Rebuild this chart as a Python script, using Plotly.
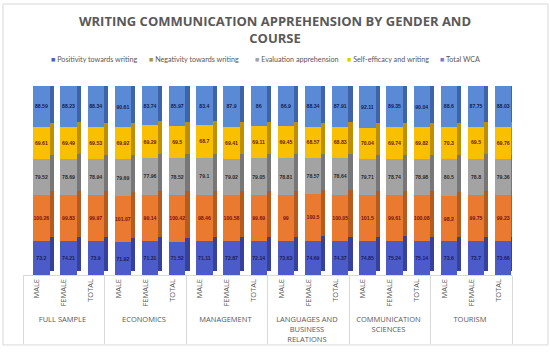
import plotly.graph_objects as go

groups = ["FULL SAMPLE", "ECONOMICS", "MANAGEMENT",
          "LANGUAGES AND<br>BUSINESS<br>RELATIONS", "COMMUNICATION<br>SCIENCES", "TOURISM"]
subs = ["MALE", "FEMALE", "TOTAL"]

positivity = [73.2, 74.21, 73.9, 71.92, 71.31, 71.52, 71.11, 72.87, 72.14,
              73.63, 74.69, 74.37, 74.85, 75.24, 75.14, 73.6, 73.7, 73.66]
negativity = [100.26, 99.83, 99.97, 101.07, 99.14, 100.42, 98.46, 100.58, 99.69,
              99, 100.5, 100.05, 101.5, 99.61, 100.08, 98.2, 99.75, 99.23]
evaluation = [79.52, 78.69, 78.94, 79.69, 77.96, 78.52, 79.1, 79.02, 79.05,
              78.81, 78.57, 78.64, 79.71, 78.74, 78.98, 80.5, 78.8, 79.36]
self_efficacy = [69.61, 69.49, 69.53, 69.92, 69.29, 69.5, 68.7, 69.41, 69.11,
                 69.45, 68.57, 68.83, 70.04, 69.74, 69.82, 70.3, 69.5, 69.76]
total_wca = [88.59, 88.23, 88.34, 90.61, 83.74, 85.97, 83.4, 87.9, 86,
             86.9, 88.34, 87.91, 92.11, 89.35, 90.04, 88.6, 87.75, 88.03]

# name, values, front colour, side colour, label colour, legend colour
series = [
    ("Positivity towards writing", positivity, "#4B5BC9", "#36419A", "#1C1C55", "#4B5BC9"),
    ("Negativity towards writing", negativity, "#EA7A30", "#B45C20", "#7A1010", "#A89A30"),
    ("Evaluation apprehension", evaluation, "#A3A3A3", "#777777", "#2A2A2A", "#A3A3A3"),
    ("Self-efficacy and writing", self_efficacy, "#F9C000", "#BE9000", "#6E1A00", "#E2D000"),
    ("Total WCA", total_wca, "#5A8AD6", "#3E64A6", "#14214F", "#7A7AD0"),
]

x_outer = [g for g in groups for _ in subs]
x_inner = subs * len(groups)
idx = list(range(len(x_inner)))

fig = go.Figure()

# 3D-style extrusion (side / top faces) on the base axes, drawn behind
for name, vals, color, side, tcolor, lcol in series:
    fig.add_trace(go.Bar(
        x=idx, y=vals, xaxis="x", yaxis="y",
        width=0.6, offset=-0.3 + 0.33,
        marker=dict(color=side, line=dict(width=0)),
        showlegend=False, hoverinfo="skip",
    ))

# front faces on the overlaying category axes
for name, vals, color, side, tcolor, lcol in series:
    fig.add_trace(go.Bar(
        name=name,
        x=[x_outer, x_inner],
        y=vals, xaxis="x2", yaxis="y2",
        width=0.6, offset=-0.3 + 0.18,
        text=[f"{v:g}" for v in vals],
        textposition="inside",
        insidetextanchor="middle",
        textangle=0,
        textfont=dict(size=6.6, color=tcolor, family="Liberation Sans", weight="bold"),
        marker=dict(color=color, line=dict(width=0)),
        showlegend=False,
    ))

fig.update_layout(
    width=550, height=354,
    barmode="stack", barnorm="percent",
    paper_bgcolor="white", plot_bgcolor="rgba(0,0,0,0)",
    margin=dict(l=23, r=38, t=86, b=79, autoexpand=False),
    title=dict(
        text="WRITING COMMUNICATION APPREHENSION BY GENDER AND<br>COURSE",
        x=0.5, xanchor="center", y=0.926, yanchor="middle",
        font=dict(family="Open Sans", size=13, color="#595959", weight="bold"),
    ),
    showlegend=False,
    uniformtext=dict(minsize=5, mode="show"),
    xaxis=dict(range=[-0.5, len(idx) - 0.5], visible=False, automargin=False),
    yaxis=dict(visible=False, range=[-2.2, 97.8]),
    xaxis2=dict(
        type="multicategory", overlaying="x", anchor="y2", side="bottom",
        automargin=False,
        tickfont=dict(family="Open Sans", size=7.5, color="#595959"),
        tickangle=-90,
        showdividers=True, dividercolor="#D9D9D9", dividerwidth=1,
        showline=True, linecolor="#D9D9D9", linewidth=1,
        ticks="",
    ),
    yaxis2=dict(overlaying="y", range=[0, 100], visible=False),
)

# legend row (Excel-style: small square + label)
legend_px = [49, 147, 253, 345, 438]
for (name, vals, color, side, tcolor, lcol), px in zip(series, legend_px):
    fig.add_annotation(
        xref="paper", yref="paper", x=(px - 23) / 489, y=(275 - 60) / 189,
        xanchor="left", yanchor="middle", showarrow=False,
        text=f"<span style='color:{lcol}'>■</span> {name}",
        font=dict(family="Lato", size=7.2, color="#595959"),
    )

fig.add_shape(type="rect", xref="paper", yref="paper",
              x0=-0.0409, x1=1.0736, y0=-0.370, y1=1.434,
              line=dict(color="#D9D9D9", width=1), layer="below")

fig.write_html("out.html", config={"displayModeBar": False},
               post_script="document.body.style.margin='0';document.body.style.padding='0';")
